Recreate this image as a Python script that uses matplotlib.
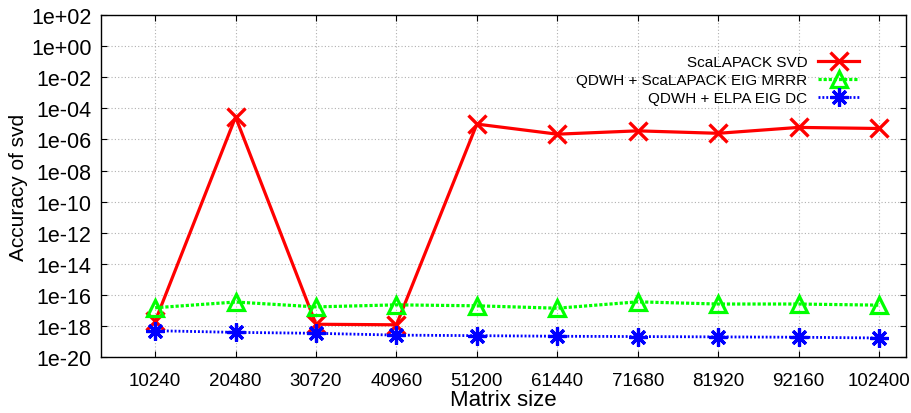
import matplotlib
matplotlib.use("Agg")
import matplotlib.pyplot as plt
from matplotlib.ticker import FixedLocator, NullLocator

plt.rcParams["font.family"] = ["Liberation Sans", "DejaVu Sans"]

# Matrix sizes (x axis)
matrix_sizes = [10240, 20480, 30720, 40960, 51200, 61440, 71680, 81920, 92160, 102400]

# Accuracy values
scalapack_svd = [2.0e-18, 2.8e-5, 1.3e-18, 1.2e-18, 9.8e-6, 2.2e-6, 3.6e-6, 2.5e-6, 6.0e-6, 5.1e-6]
qdwh_scalapack_mrrr = [1.5e-17, 3.5e-17, 1.7e-17, 2.3e-17, 2.0e-17, 1.4e-17, 3.6e-17, 2.6e-17, 2.6e-17, 2.2e-17]
qdwh_elpa_dc = [5.0e-19, 3.9e-19, 3.4e-19, 2.6e-19, 2.4e-19, 2.2e-19, 2.1e-19, 2.0e-19, 1.9e-19, 1.7e-19]

labels = ["ScaLAPACK SVD", "QDWH + ScaLAPACK EIG MRRR", "QDWH + ELPA EIG DC"]

y_ticks = [10.0 ** e for e in range(2, -21, -2)]
y_tick_labels = ["1e+%02d" % e if e >= 0 else "1e-%02d" % -e for e in range(2, -21, -2)]

fig = plt.figure(figsize=(9.11, 4.14), dpi=100)
ax = fig.add_axes([0.111, 0.135, 0.8835, 0.826])

ax.plot(matrix_sizes, scalapack_svd, color="red", linewidth=2.3,
        marker="x", markersize=13, markeredgewidth=2.4, label=labels[0])
ax.plot(matrix_sizes, qdwh_scalapack_mrrr, color="#00ff00", linewidth=2.3,
        linestyle=(0, (1.0, 0.6)), marker="^", markersize=11, markerfacecolor="none",
        markeredgewidth=2.3, label=labels[1])
ax.plot(matrix_sizes, qdwh_elpa_dc, color="blue", linewidth=2.0,
        linestyle=(0, (0.7, 0.7)), marker=(8, 2, 0), markersize=13,
        markeredgewidth=2.3, label=labels[2])

ax.set_yscale("log")
ax.set_ylim(1e-20, 1e2)
ax.set_xlim(3360, 105840)

ax.xaxis.set_major_locator(FixedLocator(matrix_sizes))
ax.set_xticklabels([str(m) for m in matrix_sizes], fontsize=13.5)
ax.yaxis.set_major_locator(FixedLocator(y_ticks))
ax.yaxis.set_minor_locator(NullLocator())
ax.set_yticklabels(y_tick_labels, fontsize=15.5)

ax.tick_params(axis="both", direction="in", length=4, width=0.8,
               top=True, right=True)
ax.tick_params(axis="x", pad=11)
ax.tick_params(axis="y", pad=7)

ax.grid(True, color="#b0b0b0", linestyle=(0, (1, 2)), linewidth=0.8)
ax.set_axisbelow(True)

for spine in ax.spines.values():
    spine.set_linewidth(1.0)

ax.set_xlabel("Matrix size", fontsize=16, labelpad=0)
ax.set_ylabel("Accuracy of svd", fontsize=15, labelpad=2)

ax.legend(loc="upper right", bbox_to_anchor=(0.942, 0.882), frameon=False,
          markerfirst=False, fontsize=11, handlelength=2.7, handletextpad=0.7,
          labelspacing=0.25, borderpad=0, borderaxespad=0)

fig.savefig("out.png", dpi=100)
